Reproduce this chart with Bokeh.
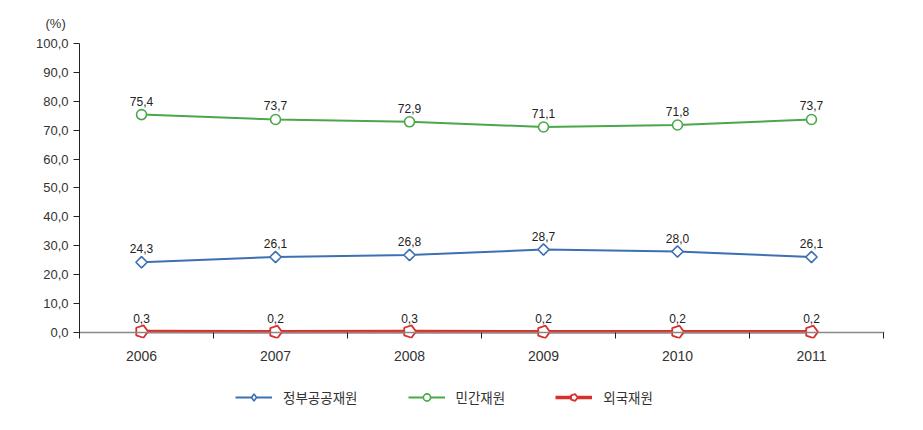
from bokeh.plotting import figure
from bokeh.layouts import column
from bokeh.models import Range1d, FixedTicker, Legend, LegendItem, ColumnDataSource, Title, LinearAxis
from bokeh.core.properties import value
from bokeh.embed import file_html
from bokeh.resources import INLINE

years = ["2006", "2007", "2008", "2009", "2010", "2011"]
gov = [24.3, 26.1, 26.8, 28.7, 28.0, 26.1]
private = [75.4, 73.7, 72.9, 71.1, 71.8, 73.7]
foreign = [0.3, 0.2, 0.3, 0.2, 0.2, 0.2]
names = ["정부공공재원", "민간재원", "외국재원"]
y_ticks = [0, 10, 20, 30, 40, 50, 60, 70, 80, 90, 100]

BLUE = "#3d70b2"
GREEN = "#4aa84a"
RED = "#d8312c"
FONT = "Liberation Sans"
KFONT = "Noto Sans CJK KR"

idx = list(range(len(years)))
bounds = [i + 0.537 for i in idx]

p = figure(width=920, height=372, output_backend="svg", toolbar_location=None,
           x_range=Range1d(-0.463, 5.545), y_range=Range1d(-2.1, 100),
           min_border_left=79, min_border_right=36, min_border_top=42, min_border_bottom=34)
p.outline_line_color = None
p.xgrid.visible = False
p.ygrid.visible = False

t = Title(text="(%)", align="left", offset=-34, text_font=FONT, text_font_size="13px",
          text_font_style="normal", text_color="#333333", standoff=26)
p.add_layout(t, "above")

# y axis
yax = p.yaxis[0]
yax.ticker = FixedTicker(ticks=y_ticks)
yax.major_label_overrides = {t_: f"{t_:.1f}".replace(".", ",") for t_ in y_ticks}
yax.major_tick_in = 0
yax.major_tick_out = 6
yax.minor_tick_line_color = None
yax.axis_line_color = "#222222"
yax.major_tick_line_color = "#222222"
yax.major_label_text_font = FONT
yax.major_label_text_font_size = "13px"
yax.major_label_text_color = "#333333"
yax.major_label_standoff = 5

# x axis: labels only
xax = p.xaxis[0]
xax.ticker = FixedTicker(ticks=idx)
xax.major_label_overrides = {i: y for i, y in zip(idx, years)}
xax.axis_line_color = None
xax.major_tick_line_color = None
xax.minor_tick_line_color = None
xax.major_tick_in = 0
xax.major_tick_out = 0
xax.major_label_text_font = FONT
xax.major_label_text_font_size = "14px"
xax.major_label_text_color = "#333333"
xax.major_label_standoff = 12

# zero line with category boundary ticks
zax = LinearAxis(fixed_location=0, ticker=FixedTicker(ticks=[], minor_ticks=bounds),
                 axis_line_color="#888888", axis_line_width=1.5,
                 major_tick_line_color=None, minor_tick_in=0, minor_tick_out=8,
                 minor_tick_line_color="#222222", major_label_text_font_size="0px",
                 major_label_standoff=0, major_tick_out=0)
p.add_layout(zax, "below")

# legend figure (its ranges keep the shared data out of view; only the legend shows)
lg = figure(width=920, height=50, output_backend="svg", toolbar_location=None,
            x_range=Range1d(100, 101), y_range=Range1d(1000, 1001),
            min_border_left=0, min_border_right=0, min_border_top=0, min_border_bottom=0)
lg.outline_line_color = None
lg.axis.visible = False
lg.xgrid.visible = False
lg.ygrid.visible = False

series = [(gov, BLUE, "square", 8, 2), (private, GREEN, "circle", 10, 2), (foreign, RED, "pentagon", 12, 3.5)]
items = []
for (vals, col, mk, sz, lw), nm in zip(series, names):
    src = ColumnDataSource(dict(x=idx, y=vals, lab=[f"{v:.1f}".replace(".", ",") for v in vals]))
    p.line("x", "y", source=src, line_color=col, line_width=lw)
    ln = lg.line("x", "y", source=src, line_color=col, line_width=lw)
    if mk == "pentagon":
        kw = dict(radius=6.5, radius_units="screen", n=5, angle=-1.5708,
                  fill_color="white", line_color=col, line_width=1.8)
        p.ngon(x="x", y="y", source=src, **kw)
        mr = lg.ngon(x="x", y="y", source=src, **kw)
    elif mk == "square":
        p.scatter("x", "y", source=src, marker="square", size=sz, angle=0.785398,
                  fill_color="white", line_color=col, line_width=1.6)
        mr = lg.scatter("x", "y", source=src, marker="diamond", size=13,
                        fill_color="white", line_color=col, line_width=1.6)
    else:
        kw = dict(marker=mk, size=sz, fill_color="white", line_color=col, line_width=1.6)
        p.scatter("x", "y", source=src, **kw)
        mr = lg.scatter("x", "y", source=src, **kw)
    p.text("x", "y", text="lab", source=src, text_align="center", text_baseline="bottom",
           y_offset=-9, text_font=value(FONT), text_font_size="12px", text_color="#222222")
    items.append(LegendItem(label=nm, renderers=[ln, mr]))

legend = Legend(items=items, orientation="horizontal", location=(156, 15),
                glyph_width=37, glyph_height=18, label_standoff=11, spacing=50,
                label_text_font=KFONT, label_text_font_size="13.5px", label_text_color="#333333",
                border_line_color=None, background_fill_alpha=0, margin=0, padding=4)
lg.add_layout(legend, "center")

open("out.html", "w").write(file_html(column(p, lg, spacing=0), INLINE))
